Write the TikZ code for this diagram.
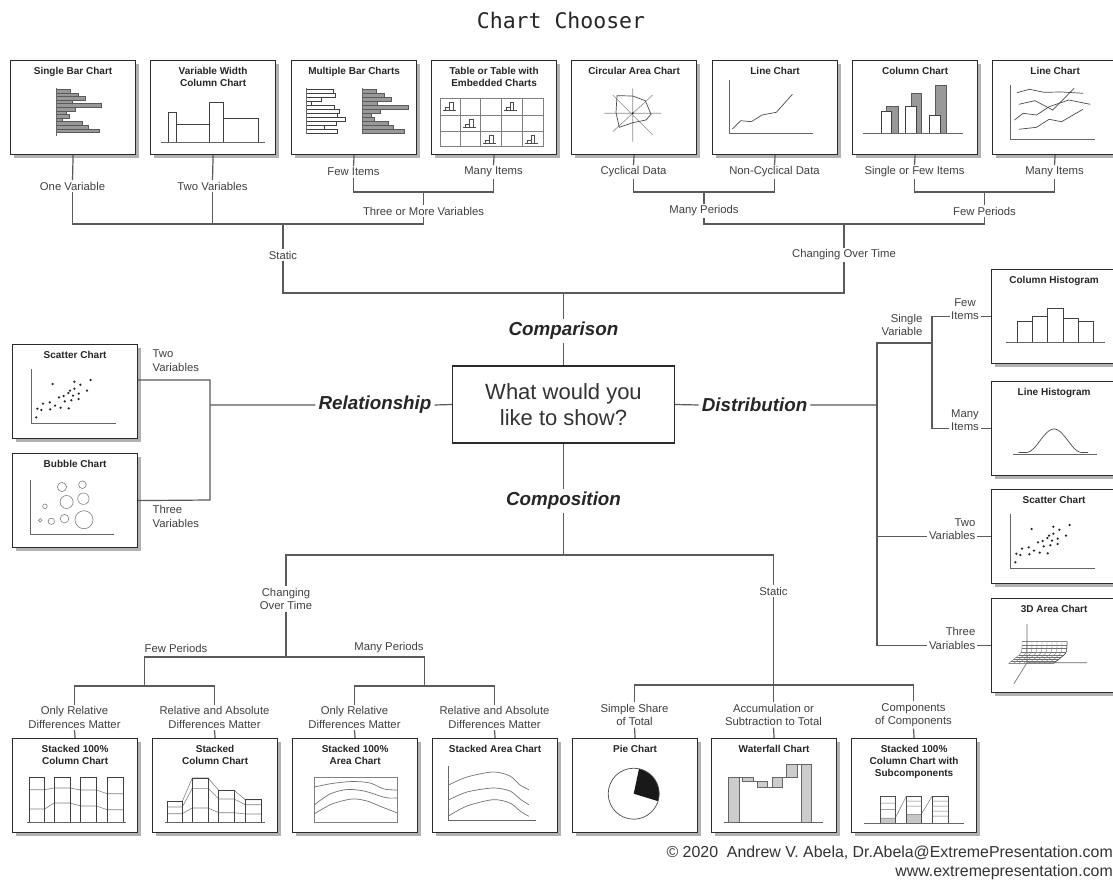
\documentclass[tikz,border=0pt]{standalone}
\usepackage{fontspec}
\setmainfont{Liberation Sans}
\newfontfamily\titlefont{DejaVu Sans Mono}
\usetikzlibrary{shadows}
\definecolor{linegray}{HTML}{5A5A5A}
\definecolor{textgray}{HTML}{404040}
\definecolor{boxline}{HTML}{2A2A2A}
\newcommand{\scatterdots}{40.7/40,62.3/37.7,68.3/40.7,78.7/36,75/46.7,24.3/73.3,25.3/64.7,29.3/66,31/59.7,38.3/65.3,37.7/58.3,43/61.7,48.7/63.7,47/53.3,51.7/52,56.3/49,58/46.7,61/51.7,62.3/44.7,66.7/49.7,59.3/56.3,52.7/57.3,56.7/64.3,66.7/55}
\tikzset{
  chartbox/.style={draw=boxline, line width=1.2pt, fill=white, minimum width=125pt, minimum height=94pt, inner sep=0pt,
    drop shadow={shadow xshift=3pt, shadow yshift=-3pt, fill=black!30, opacity=1}},
  charttitle/.style={anchor=north, align=center, inner sep=0pt, font=\bfseries\fontsize{10}{11.8}\selectfont, text=black!85},
  lbl/.style={align=center, inner sep=1.5pt, font=\fontsize{11.3}{13.5}\selectfont, text=textgray},
  branch/.style={inner sep=3pt, font=\bfseries\itshape\fontsize{18.8}{22}\selectfont, text=black!85},
  question/.style={draw=boxline, line width=1.2pt, minimum width=222pt, minimum height=77pt, align=center,
    font=\fontsize{22}{26.5}\selectfont, text=black!80},
  link/.style={draw=linegray, line width=1.2pt},
  chartaxis/.style={draw=black!60, line width=0.6pt},
  series/.style={draw=black!70, line width=0.7pt},
  gbar/.style={draw=black!65, fill=black!40, line width=0.45pt},
  wbar/.style={draw=black!75, fill=white, line width=0.6pt},
  tablegrid/.style={draw=black!50, line width=0.5pt},
  mini/.style={draw=black!70, line width=0.4pt},
  mesh/.style={draw=black!55, line width=0.35pt},
}

\begin{document}
\begin{tikzpicture}[x=1pt, y=-1pt, >=stealth]
\fill[white] (0,0) rectangle (1113,882);
\useasboundingbox (0,0) rectangle (1113,882);

\node[font=\titlefont\fontsize{21.5}{24}\selectfont, text=black!85] (title) at (561,20) {Chart Chooser};

% chart boxes
\foreach \nm/\x/\ttl in {sbar/10/{Single Bar Chart}, vwcol/150/{Variable Width\\Column Chart}, mbar/291/{Multiple Bar Charts},
    tbl/431/{Table or Table with\\Embedded Charts}, circ/571/{Circular Area Chart}, lchart/712/{Line Chart},
    colchart/852/{Column Chart}, lchartb/992/{Line Chart}}{
  \node[chartbox, anchor=north west] (\nm) at (\x,60) {};
  \node[charttitle] (\nm-t) at ([yshift=-7pt]\nm.north) {\ttl};
}
\foreach \nm/\y/\ttl in {colhist/269/{Column Histogram}, linehist/381/{Line Histogram}, scatr/489/{Scatter Chart}, area3d/598/{3D Area Chart}}{
  \node[chartbox, anchor=north west] (\nm) at (991,\y) {};
  \node[charttitle] (\nm-t) at ([yshift=-7pt]\nm.north) {\ttl};
}
\foreach \nm/\y/\ttl in {scatl/344/{Scatter Chart}, bubble/453/{Bubble Chart}}{
  \node[chartbox, anchor=north west] (\nm) at (12,\y) {};
  \node[charttitle] (\nm-t) at ([yshift=-7pt]\nm.north) {\ttl};
}
\foreach \nm/\x/\ttl in {s100col/12/{Stacked 100\%\\Column Chart}, scol/152/{Stacked\\Column Chart}, s100area/292/{Stacked 100\%\\Area Chart},
    sarea/432/{Stacked Area Chart}, pie/572/{Pie Chart}, wfall/711/{Waterfall Chart}, ssub/851/{Stacked 100\%\\Column Chart with\\Subcomponents}}{
  \node[chartbox, anchor=north west] (\nm) at (\x,738) {};
  \node[charttitle] (\nm-t) at ([yshift=-7pt]\nm.north) {\ttl};
}

% single bar chart
\begin{scope}[shift={(sbar.north west)}]
  \foreach \w [count=\i] in {14,22,29,16,45,19,10,13,6,26,32,43}
    \draw[gbar] (46,25.7+3.6*\i) rectangle ++(\w,3.6);
  \draw[chartaxis] (46,28) -- (46,76);
\end{scope}
% variable width
\begin{scope}[shift={(vwcol.north west)}]
  \draw[wbar] (18.5,52.7) rectangle (26,82) (26,64) rectangle (59,82) (59,42) rectangle (73,82) (73,58) rectangle (108,82);
  \draw[chartaxis] (11,82) -- (115,82);
\end{scope}
% multiple bars
\begin{scope}[shift={(mbar.north west)}]
  \foreach \w [count=\i] in {27,29,15,5,28,33,31,39,30,18,31}
    \draw[wbar, line width=0.5pt] (15,25+4*\i) rectangle ++(\w,4);
  \foreach \w [count=\i] in {14,22,29,15,46,18,9,12,26,31,42}
    \draw[gbar] (71,25+4*\i) rectangle ++(\w,4);
  \draw[chartaxis] (15,28) -- (15,74) (71,28) -- (71,74);
\end{scope}
% table
\begin{scope}[shift={(tbl.north west)}]
  \draw[tablegrid] (9.3,38.3) rectangle (112,86.7);
  \foreach \gx in {29.3,49.3,70,91} \draw[tablegrid] (\gx,38.3) -- (\gx,86.7);
  \foreach \gy in {55,71} \draw[tablegrid] (9.3,\gy) -- (112,\gy);
  \foreach \cx/\cy in {9.3/38.3,70/38.3,29.3/55,49.3/71,91/71}{
    \draw[mini] (\cx+3,\cy+12) -- (\cx+16,\cy+12);
    \draw[mini] (\cx+5,\cy+12) |- (\cx+9,\cy+9) -- (\cx+9,\cy+12);
    \draw[mini] (\cx+9,\cy+9) |- (\cx+12.5,\cy+4) -- (\cx+12.5,\cy+12);
  }
\end{scope}
% circular area
\begin{scope}[shift={(circ.north west)}]
  \draw[chartaxis, draw=black!45] (33.3,53.3) -- (90,53.3) (61.7,28.3) -- (61.7,81.7)
    (41.7,35) -- (81.7,75) (81.7,35) -- (41.7,71.7);
  \draw[series] (46,35.7) -- (61.7,36) -- (74.3,40.7) -- (80,54.3) -- (75,60) -- (61.7,62.7) -- (48.3,67.3) -- (45,52.7) -- cycle;
  \fill (61.7,53.3) circle (0.9pt);
\end{scope}
% line chart
\begin{scope}[shift={(lchart.north west)}]
  \draw[chartaxis] (16.8,20) -- (16.8,73.3) -- (100.7,73.3);
  \draw[series] (20.4,69) -- (28.6,60.7) -- (39.3,61.7) -- (50,55) -- (64.3,52.3) -- (80.4,34.3);
\end{scope}
% column chart
\begin{scope}[shift={(colchart.north west)}]
  \draw[gbar] (34.6,46.7) rectangle (46,73.3) (59.3,33.3) rectangle (69.6,73.3) (83.2,25.7) rectangle (93.9,73.3);
  \draw[wbar] (29.3,51.7) rectangle (39,73.3) (53.6,46.7) rectangle (64.3,73.3) (77.1,55.7) rectangle (87.9,73.3);
  \draw[chartaxis] (11.4,73.3) -- (111.4,73.3);
\end{scope}
% line chart, many items
\begin{scope}[shift={(lchartb.north west)}]
  \draw[chartaxis] (17.9,25) -- (17.9,79.3) -- (102.5,79.3);
  \draw[series] (25,32.7) -- (37.5,29.3) -- (51.8,32.3) -- (69.6,32) -- (91,33.3);
  \draw[series] (26.8,44.3) -- (42.9,40.7) -- (60.7,50) -- (82.1,28.3);
  \draw[series] (22.5,60) -- (31,53.3) -- (44.6,55) -- (57.1,46.7) -- (76.8,40) -- (98.2,44.3);
  \draw[series] (26.8,69.3) -- (44.6,67.3) -- (57.1,59.3) -- (69.6,61.7) -- (91,49.3);
\end{scope}
% column histogram
\begin{scope}[shift={(colhist.north west)}]
  \draw[wbar] (26,52) rectangle (41.7,73) (41.7,47.3) rectangle (56.7,73) (56.7,39.3) rectangle (72.7,73)
    (72.7,49) rectangle (87.7,73) (87.7,52) rectangle (102.7,73);
  \draw[chartaxis] (15.3,73) -- (114.3,73);
\end{scope}
% line histogram
\begin{scope}[shift={(linehist.north west)}]
  \draw[chartaxis] (22,73.3) -- (106,73.3);
  \draw[series] (27.7,71.5) -- (35,71.5) -- plot[domain=0:1, samples=40] ({35+56*\x},{71.5-23.5*pow(sin(180*\x),2)}) -- (97,71.5);
\end{scope}
% scatter charts
\foreach \nm in {scatr,scatl}{
  \begin{scope}[shift={(\nm.north west)}]
    \draw[chartaxis] (19,25) -- (19,79) -- (104,79);
    \foreach \a/\b in \scatterdots \fill[black!85] (\a,\b) circle (1.25pt);
  \end{scope}
}
% 3d area
\begin{scope}[shift={(area3d.north west)}]
  \draw[chartaxis] (36,26) -- (36,64.7) -- (96,64.7) (36,64.7) -- (22.7,86);
  \foreach \s in {0,5,...,45}
    \draw[mesh] (17.7+\s,65.3) -- (28+\s,57) .. controls (31+\s,54.6) and (31+\s,51) .. (31+\s,43.7);
  \foreach \a in {0.25,0.5,0.75}
    \draw[mesh] (17.7+10.3*\a,65.3-8.3*\a) -- (62.7+10.3*\a,65.3-8.3*\a);
  \foreach \px/\py in {28/57,30/54,30.8/50.5,31/47}
    \draw[mesh] (\px,\py) -- (\px+45,\py);
  \draw[series, line width=0.5pt] (17.7,65.3) -- (62.7,65.3) -- (73,57) .. controls (76,54.6) and (76,51) .. (76,43.7) -- (31,43.7);
\end{scope}
% bubble chart
\begin{scope}[shift={(bubble.north west)}]
  \draw[chartaxis] (17.9,27.3) -- (17.9,81.7) -- (101.8,81.7);
  \foreach \a/\b/\r in {50/34/4.6, 70.4/31.7/3.8, 54.6/49/6.5, 71.4/45.7/5.7, 32.9/53.3/2.3, 28.2/67.3/1.8, 39.3/68.3/3.2, 52.5/65.7/4.3, 72/66.7/9}
    \draw[draw=black!50, line width=0.6pt] (\a,\b) circle (\r pt);
\end{scope}
% stacked 100% column
\begin{scope}[shift={(s100col.north west)}]
  \draw[draw=black!50, line width=0.6pt] (17,51.7) -- (32.7,51.7) -- (42,50) -- (58,50) -- (68.7,52) -- (84.3,52) -- (95.3,55.7) -- (111.3,55.7);
  \draw[draw=black!50, line width=0.6pt] (17,71) -- (32.7,71) -- (42,65) -- (58,65) -- (68.7,68) -- (84.3,68) -- (95.3,71.7) -- (111.3,71.7);
  \draw[wbar, fill=none, line width=0.8pt] (17,39) rectangle (32.7,84) (42,39) rectangle (58,84) (68.7,39) rectangle (84.3,84) (95.3,39) rectangle (111.3,84);
  \draw[chartaxis, line width=0.8pt] (15,84) -- (113.7,84);
\end{scope}
% stacked column
\begin{scope}[shift={(scol.north west)}]
  \draw[draw=black!50, line width=0.6pt] (15,63.3) -- (30.3,63.3) -- (40.3,40) -- (56,40) -- (66.7,52.3) -- (82,52.3) -- (93.3,61.7) -- (109,61.7);
  \draw[draw=black!50, line width=0.6pt] (15,69) -- (30.3,69) -- (40.3,50.3) -- (56,50.3) -- (66.7,61) -- (82,61) -- (93.3,66.7) -- (109,66.7);
  \draw[draw=black!50, line width=0.6pt] (15,75.7) -- (30.3,75.7) -- (40.3,70) -- (56,70) -- (66.7,74.7) -- (82,74.7) -- (93.3,76) -- (109,76);
  \draw[wbar, fill=none, line width=0.8pt] (15,63.3) rectangle (30.3,84.7) (40.3,40) rectangle (56,84.7) (66.7,52.3) rectangle (82,84.7) (93.3,61.7) rectangle (109,84.7);
  \draw[chartaxis, line width=0.8pt] (13,84.7) -- (112.7,84.7);
\end{scope}
% stacked 100% area
\begin{scope}[shift={(s100area.north west)}]
  \draw[tablegrid] (22.5,39.3) rectangle (105.4,84.3);
  \draw[series, draw=black!55] plot[smooth] coordinates {(22.5,49) (40,45.5) (60,43.5) (78,45) (92,51) (105.4,52)};
  \draw[series, draw=black!55] plot[smooth] coordinates {(22.5,66.7) (38,56) (55,51.5) (72,53) (88,58) (96,60) (105.4,60)};
  \draw[series, draw=black!55] plot[smooth] coordinates {(22.5,75.7) (40,66) (60,61) (75,63) (90,69) (105.4,75)};
\end{scope}
% stacked area
\begin{scope}[shift={(sarea.north west)}]
  \draw[chartaxis] (16,28.3) -- (16,82.7) -- (104,82.7);
  \draw[series, draw=black!55] plot[smooth] coordinates {(16,47.3) (35,39) (61,34) (78,38) (88,47) (96.8,51.7)};
  \draw[series, draw=black!55] plot[smooth] coordinates {(16,62.3) (35,54) (61,50) (78,53) (88,61) (96.8,66.7)};
  \draw[series, draw=black!55] plot[smooth] coordinates {(16,78.3) (35,68) (61,61.7) (78,65) (88,73) (96.8,78.3)};
\end{scope}
% pie
\begin{scope}[shift={(pie.north west)}]
  \fill[black!90] (61.7,55.7) -- ++(78:25.5pt) arc[start angle=78, end angle=-17, radius=25.5pt] -- cycle;
  \draw[series] (61.7,55.7) circle[radius=25.5pt];
\end{scope}
% waterfall
\begin{scope}[shift={(wfall.north west)}]
  \draw[draw=black!60, fill=black!20, line width=0.5pt] (17.7,39) rectangle (28,84.7) (31.7,39) rectangle (42.3,43.3)
    (46,43.3) rectangle (56.7,49) (61.3,39) rectangle (71.7,49) (75.7,26) rectangle (86.3,39) (90.3,26) rectangle (100.7,84.7);
  \draw[draw=black!60, line width=0.4pt] (28,39) -- (31.7,39) (42.3,43.3) -- (46,43.3) (56.7,49) -- (61.3,49)
    (71.7,39) -- (75.7,39) (86.3,26) -- (90.3,26);
  \draw[chartaxis] (13,84.7) -- (112.3,84.7);
\end{scope}
% stacked 100% with subcomponents
\begin{scope}[shift={(ssub.north west)}]
  \fill[black!22] (29.3,80) rectangle (44.3,85) (55.3,76.7) rectangle (70,85);
  \draw[draw=black!55, line width=0.5pt] (29.3,65) -- (44.3,65) (29.3,71.7) -- (44.3,71.7) (29.3,80) -- (44.3,80)
    (55.3,63) -- (70,63) (55.3,68) -- (70,68) (55.3,76.7) -- (70,76.7)
    (81,63) -- (97.7,63) (81,68) -- (97.7,68) (81,73) -- (97.7,73) (81,78) -- (97.7,78)
    (44.3,80) -- (55.3,58.3) (70,76.7) -- (81,58.3);
  \draw[draw=black!70, line width=0.6pt] (29.3,58.3) rectangle (44.3,85) (55.3,58.3) rectangle (70,85) (81,58.3) rectangle (97.7,85);
  \draw[chartaxis] (12.7,85) -- (112.7,85);
\end{scope}

% centre
\node[question] (question) at (563.5,404.5) {What would you\\like to show?};
\node[branch] (comparison) at (563.5,331) {Comparison};
\node[branch] (relationship) at (375,405) {Relationship};
\node[branch] (distribution) at (754.5,405) {Distribution};
\node[branch] (composition) at (563.5,501) {Composition};

% comparison branch
\node[lbl] (onevar) at (72.5,186) {One Variable};
\node[lbl] (twovar) at (212.5,186) {Two Variables};
\node[lbl] (fewitems) at (353.5,172) {Few Items};
\node[lbl] (manyitems) at (493.5,172) {Many Items};
\node[lbl] (cyclical) at (633.5,172) {Cyclical Data};
\node[lbl] (noncyclical) at (774.5,172) {Non-Cyclical Data};
\node[lbl] (singlefew) at (914.5,172) {Single or Few Items};
\node[lbl] (manyitemsb) at (1054.5,172) {Many Items};
\node[lbl] (threevar) at (423.5,211) {Three or More Variables};
\node[lbl] (manyper) at (704,211) {Many Periods};
\node[lbl] (fewper) at (984.5,211) {Few Periods};
\node[lbl] (static) at (283,255) {Static};
\node[lbl] (overtime) at (844,255) {Changing Over Time};
\coordinate (jstatic) at (283,224);
\coordinate (jthree) at (423.5,192);
\coordinate (jmany) at (704,192);
\coordinate (jfew) at (984.5,192);
\coordinate (jcomp) at (563.5,293);
\draw[link] (sbar.south) -- (onevar.north) (vwcol.south) -- (twovar.north);
\draw[link] (onevar.south) |- (threevar.south |- jstatic) -- (threevar.south);
\draw[link] (twovar.south) -- (twovar.south |- jstatic);
\draw[link] (mbar.south) -- (fewitems.north) (tbl.south) -- (manyitems.north);
\draw[link] (fewitems.south) |- (jthree) -| (manyitems.south);
\draw[link] (jthree) -- (threevar.north);
\draw[link] (jstatic) -- (static.north);
\draw[link] (static.south) |- (jcomp) -| (overtime.south);
\draw[link] (overtime.north) -- (overtime.north |- jstatic);
\draw[link] (manyper.south) |- (fewper.south |- jstatic) -- (fewper.south);
\draw[link] (circ.south) -- (cyclical.north) (lchart.south) -- (noncyclical.north);
\draw[link] (cyclical.south) |- (jmany) -| (noncyclical.south);
\draw[link] (jmany) -- (manyper.north);
\draw[link] (colchart.south) -- (singlefew.north) (lchartb.south) -- (manyitemsb.north);
\draw[link] (singlefew.south) |- (jfew) -| (manyitemsb.south);
\draw[link] (jfew) -- (fewper.north);
\draw[link] (jcomp) -- (comparison.north) (comparison.south) -- (question.north);

% relationship branch
\node[lbl, align=left, anchor=west] (twovarl) at (151,360.5) {Two\\Variables};
\node[lbl, align=left, anchor=west] (threevarl) at (151,516.5) {Three\\Variables};
\coordinate (jrtop) at (210,380);
\coordinate (jrbot) at (210,500);
\coordinate (jrel) at (210,405);
\draw[link] (question.west) -- (relationship.east) (relationship.west) -- (jrel);
\draw[link] (scatl.east |- jrtop) -- (jrtop) -- (jrbot) -- (bubble.east);

% distribution branch
\node[lbl, align=right, anchor=east] (singlevar) at (924,325) {Single\\Variable};
\node[lbl] (fewi) at (965,309.3) {Few\\Items};
\node[lbl] (manyi) at (965,420.3) {Many\\Items};
\node[lbl, align=right, anchor=east] (twovarr) at (977,529.3) {Two\\Variables};
\node[lbl, align=right, anchor=east] (threevarr) at (977,638.3) {Three\\Variables};
\coordinate (jdtop) at (877,343);
\coordinate (jsingle) at (932,343);
\draw[link] (question.east) -- (distribution.west) (distribution.east) -- (distribution.east -| jdtop);
\draw[link] (jsingle) -- (jdtop) -- (jdtop |- area3d.west) -- (threevarr.west |- area3d.west);
\draw[link] (threevarr.east |- area3d.west) -- (area3d.west);
\draw[link] (jdtop |- scatr.west) -- (twovarr.west |- scatr.west) (twovarr.east |- scatr.west) -- (scatr.west);
\draw[link] (fewi.west |- colhist.west) -- (jsingle |- colhist.west) -- (jsingle |- linehist.west) -- (manyi.west |- linehist.west);
\draw[link] (fewi.east |- colhist.west) -- (colhist.west) (manyi.east |- linehist.west) -- (linehist.west);

% composition branch
\node[lbl] (chgtime) at (286,599) {Changing\\Over Time};
\node[lbl] (staticb) at (773.5,591) {Static};
\node[lbl] (fewperb) at (176,648) {Few Periods};
\node[lbl] (manyperb) at (389,648) {Many Periods};
\node[lbl] (onlyrela) at (74.5,717.5) {Only Relative\\Differences Matter};
\node[lbl] (relabsa) at (214.5,717.5) {Relative and Absolute\\Differences Matter};
\node[lbl] (onlyrelb) at (354.5,717.5) {Only Relative\\Differences Matter};
\node[lbl] (relabsb) at (494.5,717.5) {Relative and Absolute\\Differences Matter};
\node[lbl] (share) at (634.5,715) {Simple Share\\of Total};
\node[lbl] (accum) at (773.5,715) {Accumulation or\\Subtraction to Total};
\node[lbl] (compc) at (913.5,715) {Components\\of Components};
\coordinate (jbot) at (563.5,555);
\coordinate (jfp) at (144.5,657);
\coordinate (jmp) at (424.5,657);
\coordinate (jfpb) at (144.5,686);
\coordinate (jmpb) at (424.5,686);
\coordinate (jst) at (773.5,685);
\draw[link] (question.south) -- (composition.north) (composition.south) -- (jbot);
\draw[link] (chgtime.north) |- (jbot) -| (staticb.north);
\draw[link] (chgtime.south) -- (chgtime.south |- jfp);
\draw[link] (jfpb) -- (jfp) -- (jmp) -- (jmpb);
\draw[link] (onlyrela.north) |- (jfpb) -| (relabsa.north);
\draw[link] (onlyrelb.north) |- (jmpb) -| (relabsb.north);
\draw[link] (onlyrela.south) -- (s100col.north) (relabsa.south) -- (scol.north)
  (onlyrelb.south) -- (s100area.north) (relabsb.south) -- (sarea.north);
\draw[link] (staticb.south) -- (accum.north);
\draw[link] (share.north) |- (jst) -| (compc.north);
\draw[link] (share.south) -- (pie.north) (accum.south) -- (wfall.north) (compc.south) -- (ssub.north);

% credits
\node[anchor=east, inner sep=0pt, font=\fontsize{15.9}{18}\selectfont, text=black!80] (copyr) at (1113,853)
  {© 2020\ \ Andrew V. Abela, Dr.Abela@ExtremePresentation.com};
\node[anchor=east, inner sep=0pt, font=\fontsize{15.9}{18}\selectfont, text=black!80] (web) at (1113,872.5)
  {www.extremepresentation.com};
\end{tikzpicture}
\end{document}
